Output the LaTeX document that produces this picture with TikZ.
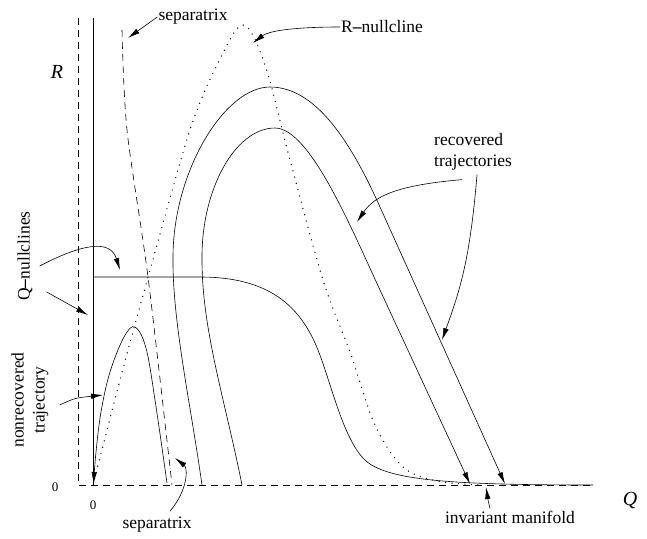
\documentclass[tikz,border=0pt]{standalone}
\usepackage{fontspec}
\setmainfont{Liberation Serif}
\usetikzlibrary{arrows.meta}
\begin{document}
\begin{tikzpicture}[x=1pt,y=-1pt,
  traj/.style={line width=.6pt},
  sepline/.style={line width=.6pt,dash pattern=on 7pt off 5pt},
  nullc/.style={line width=1.4pt,line cap=round,dash pattern=on 0pt off 6.5pt},
  tip/.style={-{Latex[length=12pt,width=5.5pt]}},
  pointer/.style={line width=.6pt,tip},
  lab/.style={font=\fontsize{17.5}{21}\selectfont,inner sep=1pt}]
\useasboundingbox (0,0) rectangle (647,538);
% axes
\draw[sepline] (78,18)--(78,485)--(593,485);
\draw[traj] (93,18)--(93,485);
\node[font=\fontsize{20}{24}\selectfont\itshape] (R) at (57,72) {R};
\node[font=\fontsize{20}{24}\selectfont\itshape] (Q) at (630,500) {Q};
\node[font=\fontsize{13}{15}\selectfont] (zeroR) at (55,487) {0};
\node[font=\fontsize{13}{15}\selectfont] (zeroQ) at (93,505) {0};
% R-nullcline
\draw[nullc] plot[smooth,tension=.55] coordinates {(93,485) (120,380) (150,270) (190,130) (218,63) (243,25) (265,65) (290,160) (323,280) (350,352) (375,425) (403,467) (437,481) (480,485)};
% separatrix
\draw[sepline] plot[smooth] coordinates {(122,30) (127,130) (148,277) (172,485)};
% horizontal Q-nullcline
\draw[traj] (93,277)--(200,277) .. controls (268,277) and (300,305) .. (318,350)
  .. controls (332,385) and (345,448) .. (370,464) .. controls (395,480) and (450,485) .. (593,485);
% trajectories
\draw[traj,tip] plot[smooth,tension=.6] coordinates {(167,483) (155,400) (146,348) (135,327) (124,337) (110,372) (101,412) (96,452) (93.5,484)};
\draw[traj,tip] (202,485) .. controls (190,400) and (172,320) .. (173,255)
  .. controls (174,170) and (225,87) .. (270,87) .. controls (315,87) and (350,140) .. (380,207) -- (505,484);
\draw[traj,tip] (242,485) .. controls (225,400) and (202,330) .. (202,260)
  .. controls (201,190) and (235,128) .. (275,128) .. controls (310,128) and (352,230) .. (380,290) -- (470,484);
% labels
\node[lab] (sepTop) at (193,17) {separatrix};
\node[lab,anchor=west] (rnull) at (340,27) {R\textbf{--}nullcline};
\node[lab,anchor=west,align=left] (rec) at (433,152) {recovered\\trajectories};
\node[lab,rotate=90] (qnull) at (25,256) {Q\textbf{--}nullclines};
\node[lab,rotate=90,align=center] (nonrec) at (30,400) {nonrecovered\\trajectory};
\node[lab] (sepBot) at (157,525) {separatrix};
\node[lab] (inv) at (510,517) {invariant manifold};
% pointers
\coordinate (pSep) at (128,38);
\coordinate (pRn) at (253,43);
\coordinate (pRecA) at (357,222);
\coordinate (pRecB) at (442,340);
\coordinate (pQh) at (120,270);
\coordinate (pQv) at (88,315);
\coordinate (pNon) at (103,395);
\coordinate (pSepB) at (175,458);
\coordinate (pInv) at (486,487);
\draw[pointer] (sepTop.west) -- (pSep);
\draw[pointer] (rnull.west) .. controls (300,27) and (270,30) .. (pRn);
\draw[pointer] (rec.south west)++(29,8) .. controls (400,185) and (375,195) .. (pRecA);
\draw[pointer] (rec.south west)++(44,3) .. controls (470,260) and (460,290) .. (pRecB);
\draw[pointer] (qnull.south)++(6,10) .. controls (80,245) and (110,238) .. (pQh);
\draw[pointer] (qnull.south)++(13,36) -- (pQv);
\draw[pointer] (nonrec.south)++(10,5) .. controls (75,398) .. (pNon);
\draw[pointer] (sepBot.north)++(13,-5) .. controls (188,490) and (188,468) .. (pSepB);
\draw[pointer] (inv.north)++(-20,-1) .. controls (488,500) .. (pInv);
\end{tikzpicture}
\end{document}
